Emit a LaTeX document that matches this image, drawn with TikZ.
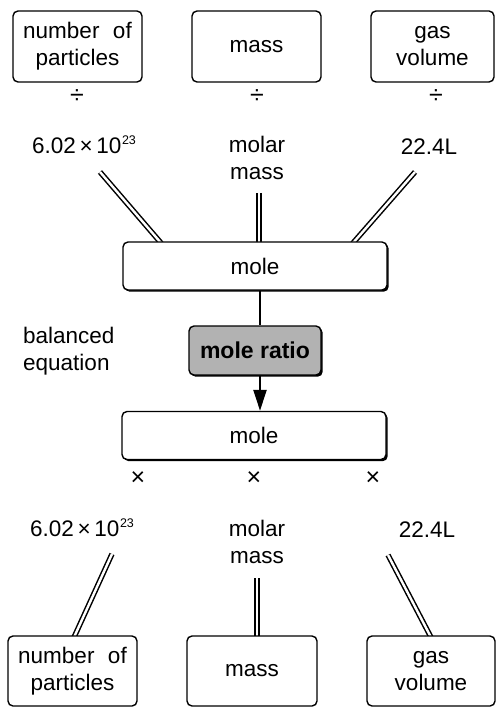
\documentclass[tikz,border=0pt]{standalone}
\usepackage{fontspec}
\setmainfont{Liberation Sans}
\usetikzlibrary{arrows.meta,shadows,backgrounds}

\newcommand{\avog}{6.02\,×\,10\kern0.5pt\raisebox{0.42em}{\fontsize{12.5}{12.5}\selectfont 23}}

\begin{document}
\begin{tikzpicture}[x=1pt,y=-1pt,
  every node/.style={font=\fontsize{22.5}{27}\selectfont, inner sep=0pt, align=center},
  qbox/.style={draw, line width=1.4pt, rounded corners=5pt, fill=white,
               minimum height=71pt},
  shadowed/.style={drop shadow={shadow xshift=1.7pt, shadow yshift=-1.7pt,
               opacity=1, fill=black}},
  molebox/.style={draw, line width=1.4pt, rounded corners=5pt, fill=white,
               minimum width=264pt, minimum height=48pt, shadowed},
  ratiobox/.style={draw, line width=1.4pt, rounded corners=5pt, fill=black!30,
               minimum width=132pt, minimum height=49pt, font=\fontsize{23}{27}\selectfont\bfseries, shadowed},
  opsign/.style={font=\fontsize{25}{25}\selectfont},
  dbl/.style={draw=black, line width=1.5pt, double=white, double distance=2.4pt},
  flow/.style={line width=2.4pt},
]
\useasboundingbox (0,0) rectangle (496,708);

% quantities given (top row)
\node[qbox, minimum width=129pt] (np1) at (77.5,46.5) {number\hspace{0.6em}of\\particles};
\node[qbox, minimum width=129pt] (ms1) at (256.5,46.5) {mass};
\node[qbox, minimum width=123pt] (gv1) at (432.5,46.5) {gas\\volume};

\node[opsign] (d1) at (77,97) {÷};
\node[opsign] (d2) at (257,97) {÷};
\node[opsign] (d3) at (436,97) {÷};

\node (c1) at (84,145) {\avog};
\node (c2) at (257,158) {molar\\mass};
\node (c3) at (429,147) {22.4L};

% central conversion chain
\node[molebox] (mole1) at (255,266) {mole};
\node[ratiobox] (ratio) at (255,350.5) {mole ratio};
\node[molebox] (mole2) at (254,435.5) {mole};

\node[anchor=west, align=left] (bal) at (23,351) {balanced\\equation};

\node[opsign] (m1) at (138,479) {×};
\node[opsign] (m2) at (254,479) {×};
\node[opsign] (m3) at (373,479) {×};

\node (e1) at (82,528) {\avog};
\node (e2) at (257,542) {molar\\mass};
\node (e3) at (427,530) {22.4L};

% quantities found (bottom row)
\node[qbox, minimum width=129pt, minimum height=70pt] (np2) at (72.5,671) {number\hspace{0.6em}of\\particles};
\node[qbox, minimum width=130pt, minimum height=70pt] (ms2) at (252,671) {mass};
\node[qbox, minimum width=128pt, minimum height=70pt] (gv2) at (431,671) {gas\\volume};

% free ends of the double links
\coordinate (u1) at (100,172);
\coordinate (u2) at (259,193);
\coordinate (u3) at (415,172);
\coordinate (l1) at (112,554);
\coordinate (l2) at (257,578);
\coordinate (l3) at (388,555);

\begin{pgfonlayer}{background}
  \draw[dbl] (u1) -- ([xshift=39pt,yshift=-2pt]mole1.north west);
  \draw[dbl] (u2) -- ([xshift=4pt,yshift=-2pt]mole1.north);
  \draw[dbl] (u3) -- ([xshift=-35pt,yshift=-2pt]mole1.north east);
  \draw[dbl] (l1) -- ([xshift=1.5pt,yshift=-2pt]np2.north);
  \draw[dbl] (l2) -- ([xshift=5pt,yshift=-2pt]ms2.north);
  \draw[dbl] (l3) -- ([yshift=-2pt]gv2.north);
\end{pgfonlayer}

\draw[flow] ([xshift=5pt]mole1.south) -- ([xshift=5pt]mole1.south |- ratio.north);
\draw[flow, -{Triangle[length=21pt,width=13pt]}]
  ([xshift=5pt]mole1.south |- ratio.south) -- ([xshift=5pt]mole1.south |- mole2.north);
\end{tikzpicture}
\end{document}
